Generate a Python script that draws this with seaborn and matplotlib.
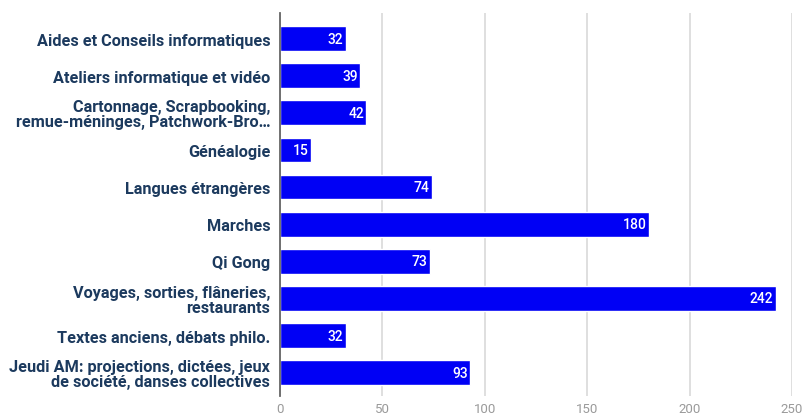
import matplotlib
matplotlib.use("Agg")
import matplotlib.pyplot as plt
import seaborn as sns
import pandas as pd

categories = [
    "Aides et Conseils informatiques",
    "Ateliers informatique et vidéo",
    "Cartonnage, Scrapbooking,\nremue-méninges, Patchwork-Bro…",
    "Généalogie",
    "Langues étrangères",
    "Marches",
    "Qi Gong",
    "Voyages, sorties, flâneries,\nrestaurants",
    "Textes anciens, débats philo.",
    "Jeudi AM: projections, dictées, jeux\nde société, danses collectives",
]
values = [32, 39, 42, 15, 74, 180, 73, 242, 32, 93]
xticks = [0, 50, 100, 150, 200, 250]

sns.set_theme(style="white")
plt.rcParams['font.family'] = ['Roboto', 'DejaVu Sans']

df = pd.DataFrame({"cat": categories, "val": values})

fig = plt.figure(figsize=(8.04, 4.14), dpi=100)
ax = fig.add_axes([280/804, (414-397)/414, (792-280)/804, (397-14)/414])

sns.barplot(data=df, x="val", y="cat", orient="h", color="#0000F5",
            saturation=1, width=0.67, ax=ax, zorder=3)

ax.set_xlim(0, 250)
ax.set_ylim(9.63, -0.69)
ax.set_xticks(xticks)
ax.set_xticklabels([str(t) for t in xticks], color="#9a9a9a", fontsize=9.5)
ax.tick_params(axis="x", length=0, pad=4)
ax.tick_params(axis="y", length=0, pad=7)
for lbl in ax.get_yticklabels():
    lbl.set_fontweight("bold")
    lbl.set_color("#1c3a5e")
    lbl.set_fontsize(11.7)
    lbl.set_linespacing(1.0)
ax.set_xlabel("")
ax.set_ylabel("")
ax.grid(axis="x", color="#d9d9d9", linewidth=1.2, zorder=0)
for s in ["top", "right", "bottom"]:
    ax.spines[s].set_visible(False)
ax.spines["left"].set_color("#666666")
ax.spines["left"].set_linewidth(1.3)
ax.spines["left"].set_zorder(4)

for i, v in enumerate(values):
    ax.text(v - 1.0, i, str(v), ha="right", va="center", color="white",
            fontsize=10, fontweight="medium", zorder=5)

fig.savefig("out.png", dpi=100)
